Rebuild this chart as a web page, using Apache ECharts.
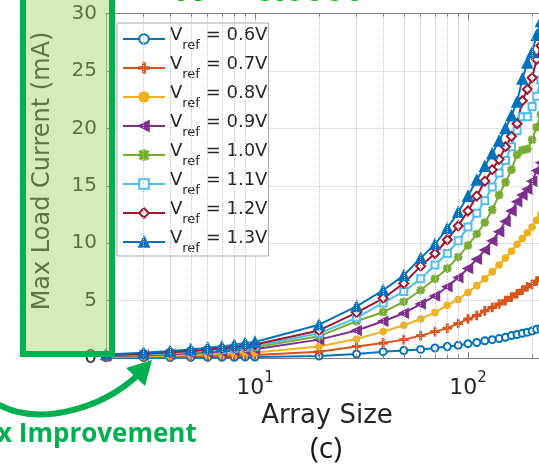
<!DOCTYPE html>
<html>
<head>
<meta charset="utf-8">
<script src="https://cdn.jsdelivr.net/npm/echarts@6/dist/echarts.min.js"></script>
<style>
  html, body { margin: 0; padding: 0; background: #ffffff; }
  #chart { width: 539px; height: 471px; }
</style>
</head>
<body>
<div id="chart"></div>
<script>
// Array sizes (x) shared by every sweep
const arraySizes = [2, 3, 4, 5, 6, 7, 8, 9, 10, 20, 30, 40, 50, 60, 70, 80, 90,
  100, 110, 120, 130, 140, 150, 160, 170, 180, 190, 200, 210, 220];

// Reference voltage of each sweep
const vrefNames = ['0.6V', '0.7V', '0.8V', '0.9V', '1.0V', '1.1V', '1.2V', '1.3V'];

// Max load current (mA) per reference voltage
const current06 = [0.02, 0.03, 0.04, 0.05, 0.05, 0.06, 0.07, 0.08, 0.09,
  0.17, 0.35, 0.55, 0.65, 0.75, 0.87, 1.0, 1.1,
  1.25, 1.35, 1.5, 1.6, 1.7, 1.8, 1.95, 2.05, 2.15, 2.25, 2.35, 2.5, 2.6];
const current07 = [0.06, 0.09, 0.11, 0.14, 0.17, 0.19, 0.22, 0.25, 0.27,
  0.55, 1.0, 1.3, 1.6, 1.95, 2.3, 2.6, 3.0,
  3.4, 3.7, 4.1, 4.4, 4.7, 5.0, 5.3, 5.6, 5.9, 6.2, 6.4, 6.7, 7.0];
const current08 = [0.1, 0.15, 0.2, 0.26, 0.31, 0.34, 0.39, 0.44, 0.48,
  1.0, 1.65, 2.3, 2.85, 3.4, 3.95, 4.6, 5.1,
  5.7, 6.3, 6.9, 7.5, 8.1, 8.7, 9.3, 9.9, 10.4, 10.9, 11.4, 12.0, 12.5];
const current09 = [0.16, 0.25, 0.33, 0.41, 0.5, 0.55, 0.63, 0.71, 0.77,
  1.6, 2.4, 3.2, 3.9, 4.7, 5.4, 6.2, 7.0,
  7.8, 8.6, 9.4, 10.2, 11.0, 11.9, 12.8, 13.6, 14.2, 14.7, 15.4, 16.3, 17.0];
const current10 = [0.2, 0.3, 0.4, 0.5, 0.6, 0.67, 0.76, 0.85, 0.93,
  1.9, 3.2, 4.0, 4.9, 5.9, 6.9, 7.8, 8.8,
  9.8, 10.8, 11.8, 12.9, 14.2, 15.3, 16.4, 17.7, 18.1, 18.2, 19.0, 20.1, 21.2];
const current11 = [0.22, 0.33, 0.44, 0.55, 0.66, 0.75, 0.85, 0.95, 1.04,
  2.15, 3.5, 4.8, 5.8, 6.9, 8.1, 9.1, 10.2,
  11.4, 12.6, 13.7, 14.9, 16.1, 17.2, 18.4, 19.8, 21.0, 21.0, 21.9, 22.8, 24.2];
const current12 = [0.25, 0.37, 0.5, 0.62, 0.74, 0.84, 0.95, 1.07, 1.17,
  2.4, 3.95, 5.2, 6.5, 8.0, 9.1, 10.3, 11.5,
  12.8, 14.1, 15.4, 16.4, 17.3, 18.4, 19.3, 20.4, 22.4, 23.4, 24.4, 26.0, 27.2];
const current13 = [0.3, 0.45, 0.6, 0.75, 0.9, 1.0, 1.15, 1.3, 1.4,
  2.9, 4.5, 5.9, 7.2, 8.7, 9.9, 11.3, 12.7,
  14.1, 15.5, 16.7, 17.8, 18.9, 20.0, 21.1, 22.3, 24.3, 25.7, 26.6, 28.1, 29.3];

// Axis ticks
const yTicks = { min: 0, max: 30, step: 5 };
const minorXTicks = [2, 3, 4, 5, 6, 7, 8, 9, 20, 30, 40, 50, 60, 70, 80, 90,
  200, 300, 400, 500, 600, 700, 800, 900];

const allCurrents = [current06, current07, current08, current09,
  current10, current11, current12, current13];

// MATLAB-like line colours and markers
const lineColors = ['#0072BD', '#D95319', '#EDB120', '#7E2F8E',
  '#77AC30', '#4DBEEE', '#A2142F', '#0072BD'];
const PLUS = 'path://M4.2,0H5.8V4.2H10V5.8H5.8V10H4.2V5.8H0V4.2H4.2Z';
const STAR = 'path://M4.4,0H5.6V4.4H10V5.6H5.6V10H4.4V5.6H0V4.4H4.4Z' +
  'M1.6,0.8L5,4.2L8.4,0.8L9.2,1.6L5.8,5L9.2,8.4L8.4,9.2L5,5.8L1.6,9.2L0.8,8.4L4.2,5L0.8,1.6Z';
const markers = [
  { symbol: 'emptyCircle', size: 7, rotate: 0 },
  { symbol: PLUS, size: 8, rotate: 0 },
  { symbol: 'circle', size: 6, rotate: 0 },
  { symbol: 'triangle', size: 9, rotate: 90 },
  { symbol: STAR, size: 7, rotate: 0 },
  { symbol: 'emptyRect', size: 7, rotate: 0 },
  { symbol: 'emptyDiamond', size: 9, rotate: 0 },
  { symbol: 'triangle', size: 10, rotate: 0 }
];

const AXIS_GREY = '#7d7d7d';
const GRID_GREY = '#e3e3e3';
const GREEN = '#00B050';

const dataSeries = vrefNames.map((name, i) => ({
  type: 'line',
  name: name,
  data: arraySizes.map((x, k) => [x, allCurrents[i][k]]),
  symbol: markers[i].symbol,
  symbolSize: markers[i].size,
  symbolRotate: markers[i].rotate,
  showSymbol: true,
  lineStyle: { width: 2, color: lineColors[i] },
  itemStyle: { color: lineColors[i], borderColor: lineColors[i], borderWidth: 1.6 },
  emphasis: { disabled: true },
  z: 3
}));

// dotted minor grid and minor tick marks along the top and bottom edges
const minorGridSeries = {
  type: 'line',
  name: 'minor-grid',
  data: [],
  silent: true,
  z: 1,
  markLine: {
    silent: true,
    symbol: ['none', 'none'],
    label: { show: false },
    animation: false,
    lineStyle: { type: 'dotted', color: '#c4c4c4', width: 1 },
    data: minorXTicks.map(v => ({ xAxis: v }))
  }
};
const minorTickSeries = {
  type: 'line',
  name: 'minor-ticks',
  data: [],
  silent: true,
  z: 2,
  markLine: {
    silent: true,
    symbol: ['none', 'none'],
    label: { show: false },
    animation: false,
    lineStyle: { type: 'solid', color: AXIS_GREY, width: 1 },
    data: minorXTicks.flatMap(v => [
      [{ coord: [v, yTicks.min] }, { coord: [v, yTicks.min + 0.28] }],
      [{ coord: [v, yTicks.max] }, { coord: [v, yTicks.max - 0.28] }]
    ])
  }
};

function decadeLabel(v) {
  const p = Math.log10(v);
  const r = Math.round(p);
  if (Math.abs(p - r) > 1e-6 || v < 5 || v > 500) return '';
  return '{h|\u200b}{b|10}{sup|' + r + '}';
}

const chart = echarts.init(document.getElementById('chart'), null, { renderer: 'canvas' });

chart.setOption({
  animation: false,
  backgroundColor: '#ffffff',
  grid: { left: 106, top: 13.5, width: 575, height: 344.5, containLabel: false, outerBoundsMode: 'none' },
  xAxis: [
    {
      type: 'log', logBase: 10, min: 2, max: 1000, position: 'bottom',
      axisLine: { show: true, lineStyle: { color: AXIS_GREY, width: 1 } },
      axisTick: { show: true, inside: true, length: 6, lineStyle: { color: AXIS_GREY } },
      splitLine: { show: true, lineStyle: { color: GRID_GREY, width: 1 } },
      axisLabel: {
        margin: 13,
        formatter: decadeLabel,
        showMinLabel: false,
        rich: {
          h: { fontSize: 1, lineHeight: 28 },
          b: { fontFamily: 'DejaVu Sans', fontSize: 22, lineHeight: 22, verticalAlign: 'bottom', color: '#262626' },
          sup: { fontFamily: 'DejaVu Sans', fontSize: 15, lineHeight: 15, verticalAlign: 'top', color: '#262626' }
        }
      }
    },
    {
      type: 'log', logBase: 10, min: 2, max: 1000, position: 'top',
      axisLine: { show: true, lineStyle: { color: AXIS_GREY, width: 1 } },
      axisTick: { show: true, inside: true, length: 6, lineStyle: { color: AXIS_GREY } },
      splitLine: { show: false },
      axisLabel: { show: false }
    }
  ],
  yAxis: {
    type: 'value', min: yTicks.min, max: yTicks.max, interval: yTicks.step,
    axisLine: { show: true, lineStyle: { color: AXIS_GREY, width: 1 } },
    axisTick: { show: true, inside: true, length: 6, lineStyle: { color: AXIS_GREY } },
    splitLine: { show: true, lineStyle: { color: GRID_GREY, width: 1 } },
    axisLabel: { fontFamily: 'DejaVu Sans', fontSize: 20, color: '#333333', margin: 9 }
  },
  legend: {
    orient: 'vertical',
    left: 117, top: 23,
    data: vrefNames,
    itemWidth: 42, itemHeight: 12, itemGap: 3,
    padding: [3, 1, 1, 5],
    backgroundColor: '#ffffff',
    borderColor: '#a8a8a8', borderWidth: 1, borderRadius: 0,
    selectedMode: false,
    formatter: n => '{h|\u200b}{v|V}{s|ref}{v| = ' + n + '}',
    textStyle: {
      color: '#262626', fontFamily: 'DejaVu Sans',
      rich: {
        h: { fontSize: 1, lineHeight: 26 },
        v: { fontFamily: 'DejaVu Sans', fontSize: 18, lineHeight: 18, verticalAlign: 'top', color: '#262626' },
        s: { fontFamily: 'DejaVu Sans', fontSize: 13, lineHeight: 14, verticalAlign: 'bottom', color: '#262626' }
      }
    }
  },
  series: [minorGridSeries, minorTickSeries].concat(dataSeries),
  graphic: [
    {
      type: 'text', x: 176, y: -9, z: 100,
      style: { text: 'R\u00b2 = 0.9999', fontFamily: 'Liberation Sans', fontWeight: 'bold',
        fontSize: 36, fill: '#00C000', align: 'left', verticalAlign: 'middle' }
    },
    {
      type: 'text', x: 43, y: 171, rotation: Math.PI / 2, z: 99,
      style: { text: 'Max Load Current (mA)', fontFamily: 'DejaVu Sans', fontSize: 24,
        fill: '#3a3a3a', align: 'center', verticalAlign: 'middle' }
    },
    {
      type: 'rect', z: 100,
      shape: { x: 23, y: -10, width: 89, height: 364 },
      style: { fill: 'rgba(146,208,80,0.4)', stroke: GREEN, lineWidth: 6 }
    },
    {
      type: 'text', x: 327, y: 416, z: 100,
      style: { text: 'Array Size', fontFamily: 'DejaVu Sans', fontSize: 26,
        fill: '#262626', align: 'center', verticalAlign: 'middle' }
    },
    {
      type: 'text', x: 326, y: 449, z: 100,
      style: { text: '(c)', fontFamily: 'Open Sans', fontSize: 30,
        fill: '#1a1a1a', align: 'center', verticalAlign: 'middle' }
    },
    {
      type: 'bezierCurve', z: 100,
      shape: { x1: -6, y1: 402, cpx1: 35, cpy1: 428, cpx2: 100, cpy2: 410, x2: 138, y2: 375 },
      style: { fill: null, stroke: GREEN, lineWidth: 6 }
    },
    {
      type: 'polygon', z: 100,
      shape: { points: [[152, 360], [126, 368], [145, 386]] },
      style: { fill: GREEN }
    },
    {
      type: 'text', x: -3, y: 435, z: 100,
      style: { text: 'x Improvement', fontFamily: 'Open Sans', fontWeight: 'bold', fontSize: 26,
        fill: GREEN, align: 'left', verticalAlign: 'middle' }
    }
  ]
});
</script>
</body>
</html>
